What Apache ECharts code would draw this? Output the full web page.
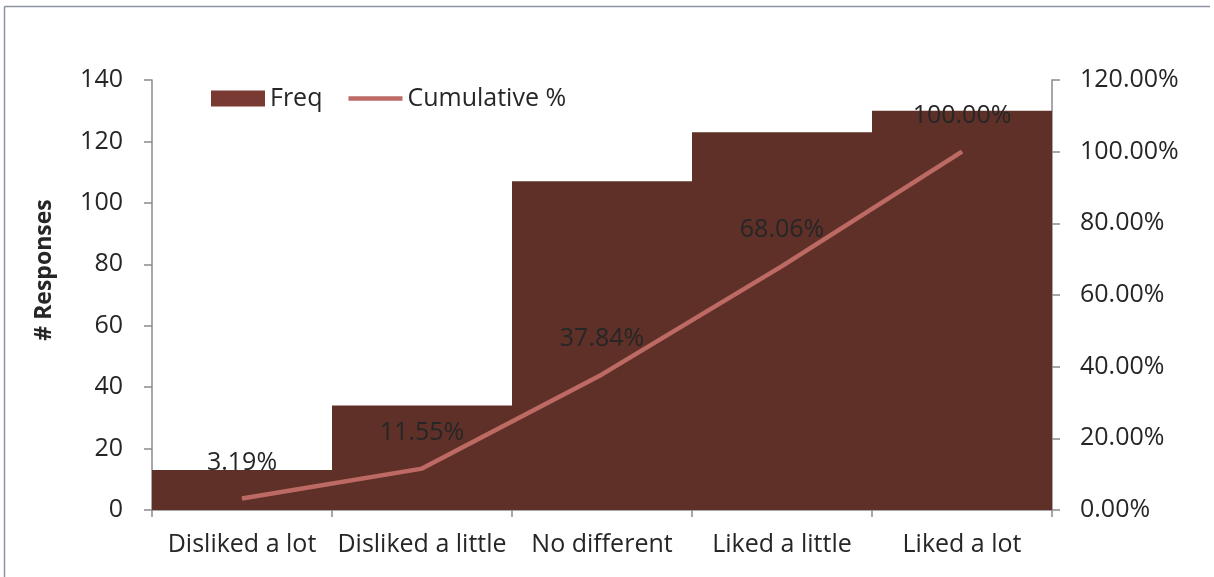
<!DOCTYPE html>
<html>
<head>
<meta charset="utf-8">
<script src="https://cdn.jsdelivr.net/npm/echarts@6/dist/echarts.min.js"></script>
<style>
  html, body { margin: 0; padding: 0; background: #fff; }
  #chart { width: 1214px; height: 577px; }
</style>
</head>
<body>
<div id="chart"></div>
<script>
// Survey responses and their running share of the total
const categories = ['Disliked a lot', 'Disliked a little', 'No different', 'Liked a little', 'Liked a lot'];
const freq = [13, 34, 107, 123, 130];
const cumulativePct = [3.19, 11.55, 37.84, 68.06, 100.00];
const leftTicks = { min: 0, max: 140, interval: 20 };
const rightTicks = { min: 0, max: 120, interval: 20 };

const FONT = '"Open Sans", "Noto Sans", sans-serif';
const BAR = '#5e3028';
const LINE = '#bd6a64';
const TEXT = '#262626';
const AXIS = '#8a8a8a';

const chart = echarts.init(document.getElementById('chart'), null, { renderer: 'canvas' });

chart.setOption({
  animation: false,
  backgroundColor: '#fff',
  textStyle: { fontFamily: FONT },
  graphic: [
    { type: 'line', shape: { x1: 4.5, y1: 6.5, x2: 1210, y2: 6.5 }, style: { stroke: '#8e92a2', lineWidth: 1.5 } },
    { type: 'line', shape: { x1: 4.5, y1: 6.5, x2: 4.5, y2: 577 }, style: { stroke: '#8e92a2', lineWidth: 1.5 } },
    {
      type: 'text', x: 44, y: 270, rotation: Math.PI / 2,
      style: {
        text: '# Responses', fill: TEXT, font: 'bold 23px ' + FONT,
        align: 'center', verticalAlign: 'middle'
      }
    }
  ],
  legend: {
    left: 206, top: 81,
    itemWidth: 54, itemHeight: 16, itemGap: 26,
    symbolKeepAspect: true,
    textStyle: { fontFamily: FONT, fontSize: 25, color: TEXT },
    data: [
      { name: 'Freq', icon: 'rect', itemStyle: { color: '#7a3a34' } },
      { name: 'Cumulative %', icon: 'path://M0,0 L54,0 L54,4.5 L0,4.5 Z', itemStyle: { color: LINE } }
    ]
  },
  grid: { left: 152, right: 162, top: 80, bottom: 67, containLabel: false },
  xAxis: {
    type: 'category',
    data: categories,
    boundaryGap: true,
    axisLine: { lineStyle: { color: AXIS, width: 1.5 } },
    axisTick: { show: true, alignWithLabel: false, length: 7, lineStyle: { color: AXIS, width: 1.5 } },
    axisLabel: { margin: 22, fontSize: 25, color: TEXT, fontFamily: FONT, interval: 0 },
    splitLine: { show: false }
  },
  yAxis: [
    {
      type: 'value',
      min: leftTicks.min, max: leftTicks.max, interval: leftTicks.interval,
      axisLine: { show: true, lineStyle: { color: AXIS, width: 1.5 } },
      axisTick: { show: true, length: 8, lineStyle: { color: AXIS, width: 1.5 } },
      axisLabel: { margin: 29, fontSize: 25, color: TEXT, fontFamily: FONT },
      splitLine: { show: false }
    },
    {
      type: 'value',
      position: 'right',
      min: rightTicks.min, max: rightTicks.max, interval: rightTicks.interval,
      axisLine: { show: true, lineStyle: { color: AXIS, width: 1.5 } },
      axisTick: { show: true, length: 8, lineStyle: { color: AXIS, width: 1.5 } },
      axisLabel: {
        margin: 28, fontSize: 25, color: TEXT, fontFamily: FONT,
        formatter: v => v.toFixed(2) + '%'
      },
      splitLine: { show: false }
    }
  ],
  series: [
    {
      name: 'Freq',
      type: 'bar',
      data: freq,
      yAxisIndex: 0,
      barCategoryGap: '0%',
      itemStyle: { color: BAR },
      z: 1
    },
    {
      name: 'Cumulative %',
      type: 'line',
      data: cumulativePct,
      yAxisIndex: 1,
      symbol: 'circle',
      symbolSize: 1,
      showSymbol: true,
      lineStyle: { color: LINE, width: 4.5 },
      itemStyle: { color: LINE },
      label: {
        show: true, position: 'top', distance: 23,
        fontSize: 25, color: TEXT, fontFamily: FONT,
        formatter: p => p.value.toFixed(2) + '%'
      },
      labelLayout: { hideOverlap: false },
      z: 3
    }
  ]
});
</script>
</body>
</html>
